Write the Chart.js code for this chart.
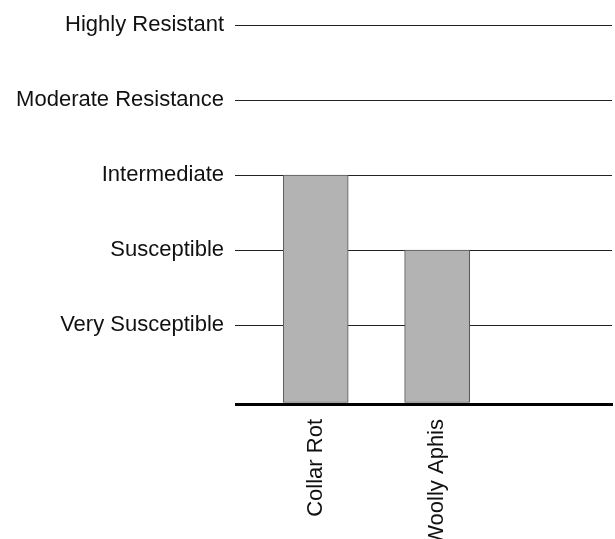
<!DOCTYPE html>
<html>
<head>
<meta charset="utf-8">
<script src="https://cdn.jsdelivr.net/npm/chart.js@4"></script>
<style>
  html, body { margin: 0; padding: 0; background: #fff; }
  #wrap { width: 615px; height: 539px; }
</style>
</head>
<body>
<div id="wrap"><canvas id="resistanceChart"></canvas></div>
<script>
// disease names and their resistance level (1 = very susceptible ... 5 = highly resistant)
const categories = ["Collar Rot", "Woolly Aphis"];
const ratings = [3, 2];
const levelValues = [1, 2, 3, 4, 5];
const levelLabels = ["Very Susceptible", "Susceptible", "Intermediate", "Moderate Resistance", "Highly Resistant"];

const baseValue = -0.05; // axis floor, bars start here

const points = categories.map((name, i) => ({ x: i, y: ratings[i] }));

const ctx = document.getElementById("resistanceChart").getContext("2d");
new Chart(ctx, {
  type: "bar",
  data: {
    datasets: [
      {
        data: points,
        backgroundColor: "#b3b3b3",
        borderColor: "#555",
        borderWidth: 1,
        borderSkipped: false,
        barThickness: 65,
        base: baseValue,
      },
    ],
  },
  options: {
    responsive: true,
    maintainAspectRatio: false,
    animation: false,
    layout: { padding: { top: 25, right: 3, left: 0, bottom: 0 } },
    plugins: {
      legend: { display: false },
      tooltip: { enabled: false },
    },
    scales: {
      x: {
        type: "linear",
        min: -0.5,
        max: 2.44,
        offset: false,
        bounds: "data",
        afterBuildTicks: (scale) => {
          scale.ticks = categories.map((_, i) => ({ value: i }));
        },
        afterFit: (scale) => {
          scale.height = 135;
        },
        grid: { display: false, offset: false },
        border: { display: true, color: "#000", width: 3, z: 1 },
        ticks: {
          autoSkip: false,
          minRotation: 90,
          maxRotation: 90,
          padding: 7,
          color: "#111",
          font: { family: "'Liberation Sans', Arial, sans-serif", size: 22 },
          callback: (value) => categories[value] ?? "",
        },
      },
      y: {
        min: baseValue,
        max: 5,
        afterBuildTicks: (scale) => {
          scale.ticks = [baseValue].concat(levelValues).map((v) => ({ value: v }));
        },
        afterFit: (scale) => {
          scale.width = 255;
        },
        border: { display: false },
        grid: {
          color: (c) => (c.tick && c.tick.value < 0 ? "#000" : "#222"),
          lineWidth: (c) => (c.tick && c.tick.value < 0 ? 3 : 1),
          tickLength: 20,
          drawTicks: true,
        },
        ticks: {
          padding: 11,
          color: "#111",
          font: { family: "'Liberation Sans', Arial, sans-serif", size: 22 },
          callback: (value) => {
            const i = levelValues.indexOf(value);
            return i >= 0 ? levelLabels[i] : "";
          },
        },
      },
    },
  },
});
</script>
</body>
</html>
